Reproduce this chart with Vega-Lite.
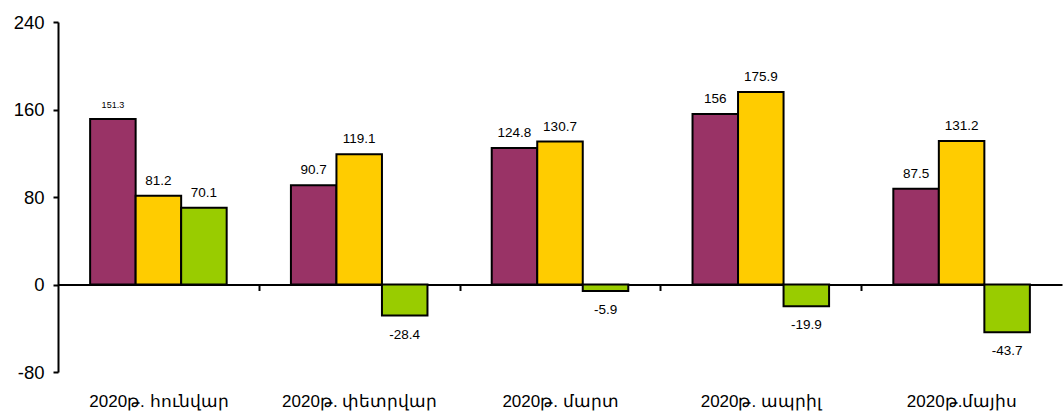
{
  "$schema": "https://vega.github.io/schema/vega-lite/v6.json",
  "width": 1004,
  "height": 350,
  "autosize": {"type": "none"},
  "padding": {"left": 58, "top": 22, "right": 1, "bottom": 43},
  "background": "white",
  "config": {"view": {"stroke": null}, "font": "Liberation Sans"},
  "data": {
    "values": [
      {"month": "2020թ. հունվար", "series": "a", "value": 151.3},
      {"month": "2020թ. հունվար", "series": "b", "value": 81.2},
      {"month": "2020թ. հունվար", "series": "c", "value": 70.1},
      {"month": "2020թ. փետրվար", "series": "a", "value": 90.7},
      {"month": "2020թ. փետրվար", "series": "b", "value": 119.1},
      {"month": "2020թ. փետրվար", "series": "c", "value": -28.4},
      {"month": "2020թ. մարտ", "series": "a", "value": 124.8},
      {"month": "2020թ. մարտ", "series": "b", "value": 130.7},
      {"month": "2020թ. մարտ", "series": "c", "value": -5.9},
      {"month": "2020թ. ապրիլ", "series": "a", "value": 156},
      {"month": "2020թ. ապրիլ", "series": "b", "value": 175.9},
      {"month": "2020թ. ապրիլ", "series": "c", "value": -19.9},
      {"month": "2020թ.մայիս", "series": "a", "value": 87.5},
      {"month": "2020թ.մայիս", "series": "b", "value": 131.2},
      {"month": "2020թ.մայիս", "series": "c", "value": -43.7}
    ]
  },
  "encoding": {
    "x": {
      "field": "month",
      "type": "nominal",
      "sort": ["2020թ. հունվար", "2020թ. փետրվար", "2020թ. մարտ", "2020թ. ապրիլ", "2020թ.մայիս"],
      "scale": {"paddingInner": 0.32, "paddingOuter": 0.16},
      "axis": {
        "title": null,
        "orient": "bottom",
        "offset": -87.5,
        "tickOffset": 100.4,
        "labelOffset": -100.4,
        "domain": true,
        "domainColor": "black",
        "domainWidth": 2,
        "ticks": true,
        "tickColor": {"condition": {"test": "datum.value === '2020թ.մայիս'", "value": "transparent"}, "value": "black"},
        "tickWidth": 2,
        "tickSize": 6,
        "labelPadding": 103,
        "labelAngle": 0,
        "labelFontSize": 17,
        "labelColor": "black",
        "labelFont": "Liberation Sans",
        "zindex": 0
      }
    },
    "xOffset": {
      "field": "series",
      "type": "nominal",
      "scale": {"paddingInner": 0, "paddingOuter": 0}
    },
    "y": {
      "field": "value",
      "type": "quantitative",
      "scale": {"domain": [-80, 240], "nice": false, "zero": false},
      "axis": {
        "title": null,
        "values": [-80, 0, 80, 160, 240],
        "labelExpr": "toString(datum.value)",
        "grid": false,
        "domainColor": "black",
        "domainWidth": 2,
        "tickColor": "black",
        "tickWidth": 2,
        "tickSize": 5,
        "labelPadding": 9,
        "labelFontSize": 18.5,
        "labelColor": "black",
        "labelFont": "Liberation Sans"
      }
    }
  },
  "layer": [
    {
      "mark": {"type": "bar", "stroke": "black", "strokeWidth": 2},
      "encoding": {
        "color": {
          "field": "series",
          "type": "nominal",
          "scale": {"domain": ["a", "b", "c"], "range": ["#993366", "#FFCC00", "#99CC00"]},
          "legend": null
        }
      }
    },
    {
      "transform": [{"filter": "datum.value >= 0"}],
      "mark": {"type": "text", "baseline": "alphabetic", "dy": -11, "color": "black"},
      "encoding": {
        "text": {"field": "value", "type": "nominal"},
        "size": {"condition": {"test": "datum.value === 151.3", "value": 9}, "value": 13.5}
      }
    },
    {
      "transform": [{"filter": "datum.value < 0"}],
      "mark": {"type": "text", "baseline": "top", "dy": 12, "color": "black", "fontSize": 13.5},
      "encoding": {
        "text": {"field": "value", "type": "nominal"}
      }
    }
  ]
}
